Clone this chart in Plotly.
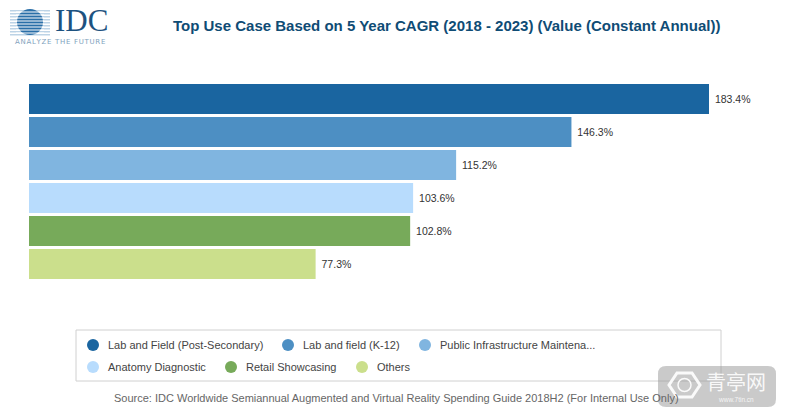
import plotly.graph_objects as go

W, H = 787, 418

categories = ["Lab and Field (Post-Secondary)", "Lab and field (K-12)", "Public Infrastructure Maintena...",
              "Anatomy Diagnostic", "Retail Showcasing", "Others"]
values = [183.4, 146.3, 115.2, 103.6, 102.8, 77.3]
colors = ["#1a65a0", "#4d8fc3", "#80b5e0", "#b8dcfd", "#77aa5a", "#cbdf8c"]

title = "Top Use Case Based on 5 Year CAGR (2018 - 2023) (Value (Constant Annual))"
source = "Source: IDC Worldwide Semiannual Augmented and Virtual Reality Spending Guide 2018H2 (For Internal Use Only)"

# legend positions in pixels (marker x, text x, row y)
legend_pos = [(93, 106, 345), (288, 301, 345), (425, 438, 345),
              (93, 106, 367), (231, 244, 367), (362, 375, 367)]

FONT = "Liberation Sans, Arial, sans-serif"


def px(x):
    return x / W


def py(y):
    return 1 - y / H


def text(x, y, s, size, color, anchor="left", family=FONT):
    fig.add_annotation(x=px(x), y=py(y), xref="paper", yref="paper", text=s, showarrow=False,
                       xanchor=anchor, yanchor="middle", font=dict(size=size, color=color, family=family))


def rect(x0, y0, x1, y1, **kw):
    fig.add_shape(type="rect", xref="paper", yref="paper", x0=px(x0), x1=px(x1), y0=py(y0), y1=py(y1), **kw)


def circle(x, y, r, color):
    fig.add_shape(type="circle", xref="paper", yref="paper", x0=px(x - r), x1=px(x + r),
                  y0=py(y - r), y1=py(y + r), fillcolor=color, line_width=0)


fig = go.Figure(go.Bar(
    x=values, y=categories, orientation="h",
    marker=dict(color=colors, line_width=0),
    text=[f"\u00a0{v}%" for v in values], textposition="outside", cliponaxis=False,
    textfont=dict(size=10.5, color="#333333", family=FONT),
))

fig.update_layout(
    width=W, height=H, margin=dict(l=0, r=0, t=0, b=0), autosize=False,
    paper_bgcolor="white", plot_bgcolor="white", showlegend=False, bargap=0.09,
    font=dict(family=FONT),
    xaxis=dict(domain=[px(29), px(760)], range=[0, 731 / (680 / 183.4)], visible=False, fixedrange=True),
    yaxis=dict(domain=[py(280.5), py(82.5)], autorange="reversed", visible=False, fixedrange=True),
)

# title and source
text(446, 25, f"<b>{title}</b>", 15, "#0f4c75", "center")
text(396, 398, source, 11, "#666666", "center")

# legend box
rect(76, 330, 721, 381, line=dict(color="#d0d0d0", width=1), fillcolor="white")
for name, color, (mx, tx, ly) in zip(categories, colors, legend_pos):
    circle(mx, ly, 6, color)
    text(tx, ly, name, 11, "#444444")

# IDC logo
for sy in range(10, 36, 3):
    rect(10, sy, 50, sy + 1.5, fillcolor="#bcd3e6", line_width=0)
circle(30, 22, 13, "#2a6fa8")
for sy in range(11, 35, 3):
    rect(16, sy + 0.5, 44, sy + 1.5, fillcolor="white", line_width=0)
text(53, 20, "IDC", 31, "#1d5280", family="Liberation Serif, serif")
text(60, 42, "\u200a".join("ANALYZE THE FUTURE"), 7, "#7fa2bd", "center", family="DejaVu Sans, sans-serif")

# watermark
fig.add_shape(type="path", xref="paper", yref="paper", line_width=0, fillcolor="rgba(150,150,150,0.5)",
              path=" ".join([f"M{px(666)},{py(366)}", f"L{px(768)},{py(366)}",
                             f"Q{px(776)},{py(366)} {px(776)},{py(374)}", f"L{px(776)},{py(399)}",
                             f"Q{px(776)},{py(407)} {px(768)},{py(407)}", f"L{px(666)},{py(407)}",
                             f"Q{px(658)},{py(407)} {px(658)},{py(399)}", f"L{px(658)},{py(374)}",
                             f"Q{px(658)},{py(366)} {px(666)},{py(366)}", "Z"]))
fig.add_shape(type="path", xref="paper", yref="paper", fillcolor="rgba(0,0,0,0)",
              line=dict(color="rgba(255,255,255,0.9)", width=3),
              path=" ".join([f"M{px(669)},{py(385)}", f"L{px(677)},{py(373)}", f"L{px(692)},{py(373)}",
                             f"L{px(700)},{py(385)}", f"L{px(692)},{py(397)}", f"L{px(677)},{py(397)}", "Z"]))
fig.add_shape(type="circle", xref="paper", yref="paper", x0=px(678), x1=px(691), y0=py(391.5), y1=py(378.5),
              line=dict(color="rgba(255,255,255,0.9)", width=1.5))
text(736, 381, "青亭网", 20, "rgba(255,255,255,0.9)", "center", family="Noto Sans CJK SC")
text(736, 399, "www.7tin.cn", 6.5, "rgba(255,255,255,0.85)", "center")

fig.write_html("out.html", config=dict(displayModeBar=False), post_script="document.body.style.margin='0';")
